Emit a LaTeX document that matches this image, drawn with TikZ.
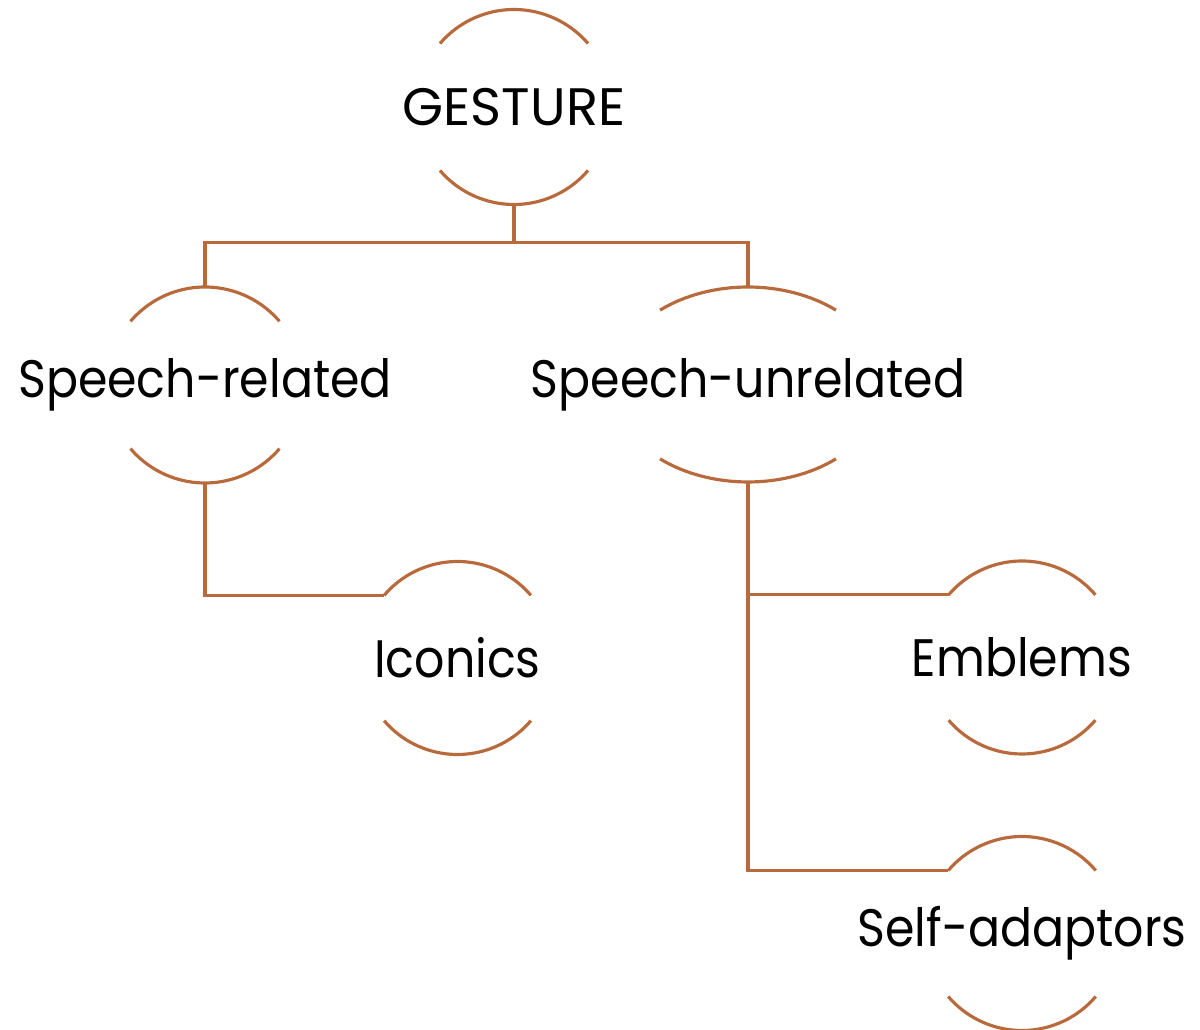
\documentclass[tikz,border=0pt]{standalone}
\usepackage{fontspec}
\setmainfont{Poppins}
\newfontfamily\narrowfont[FakeStretch=0.9]{Poppins}
\usepackage{xcolor}
\definecolor{rust}{RGB}{185,106,60}

% two arcs above and below a label, plus named points for the links
\newcommand{\labelarcs}[4]{% name, x radius, y radius, start angle
  \draw[arcline] ([shift={(#4:#2 and #3)}]#1.center)
     arc[start angle=#4, end angle=180-#4, x radius=#2, y radius=#3];
  \draw[arcline] ([shift={(180+#4:#2 and #3)}]#1.center)
     arc[start angle=180+#4, end angle=360-#4, x radius=#2, y radius=#3];
  \coordinate (#1-top) at ([yshift=#3]#1.center);
  \coordinate (#1-bot) at ([yshift=-#3]#1.center);
  \coordinate (#1-tl) at ([shift={(180-#4:#2 and #3)}]#1.center);
}

\begin{document}
\begin{tikzpicture}[
    arcline/.style={line width=0.9pt, draw=rust},
    link/.style={line width=0.9pt, draw=rust},
    label/.style={inner sep=0pt, font=\narrowfont\fontsize{15}{18}\selectfont},
    toplabel/.style={inner sep=0pt, font=\fontsize{15}{18}\selectfont}]
  \useasboundingbox (0,0) rectangle (12,10.3);

  % Labels
  \node[toplabel] (gesture) at (5.14, 9.23) {GESTURE};
  \node[label] (related) at (2.05, 6.45) {Speech-related};
  \node[label] (unrelated) at (7.48, 6.455) {Speech-unrelated};
  \node[label] (iconics) at (4.575, 3.72) {Iconics};
  \node[label] (emblems) at (10.22, 3.725) {Emblems};
  \node[label] (selfadapt) at (10.22, 0.965) {Self-adaptors};

  % Arcs
  \labelarcs{gesture}{0.975cm}{0.975cm}{40.6}
  \labelarcs{related}{0.98cm}{0.98cm}{40.5}
  \labelarcs{unrelated}{1.36cm}{0.975cm}{49.7}
  \labelarcs{iconics}{0.965cm}{0.965cm}{40.5}
  \labelarcs{emblems}{0.965cm}{0.965cm}{40.5}
  \labelarcs{selfadapt}{0.97cm}{0.97cm}{40.5}

  % Links
  \coordinate (split) at ([yshift=-0.38cm]gesture-bot);
  \draw[link] (gesture-bot) -- (split) -| (related-top);
  \draw[link] (split) -| (unrelated-top);
  \draw[link] (related-bot) |- (iconics-tl);
  \draw[link] (unrelated-bot) |- (emblems-tl);
  \draw[link] (unrelated-bot) |- (selfadapt-tl);

\end{tikzpicture}
\end{document}
